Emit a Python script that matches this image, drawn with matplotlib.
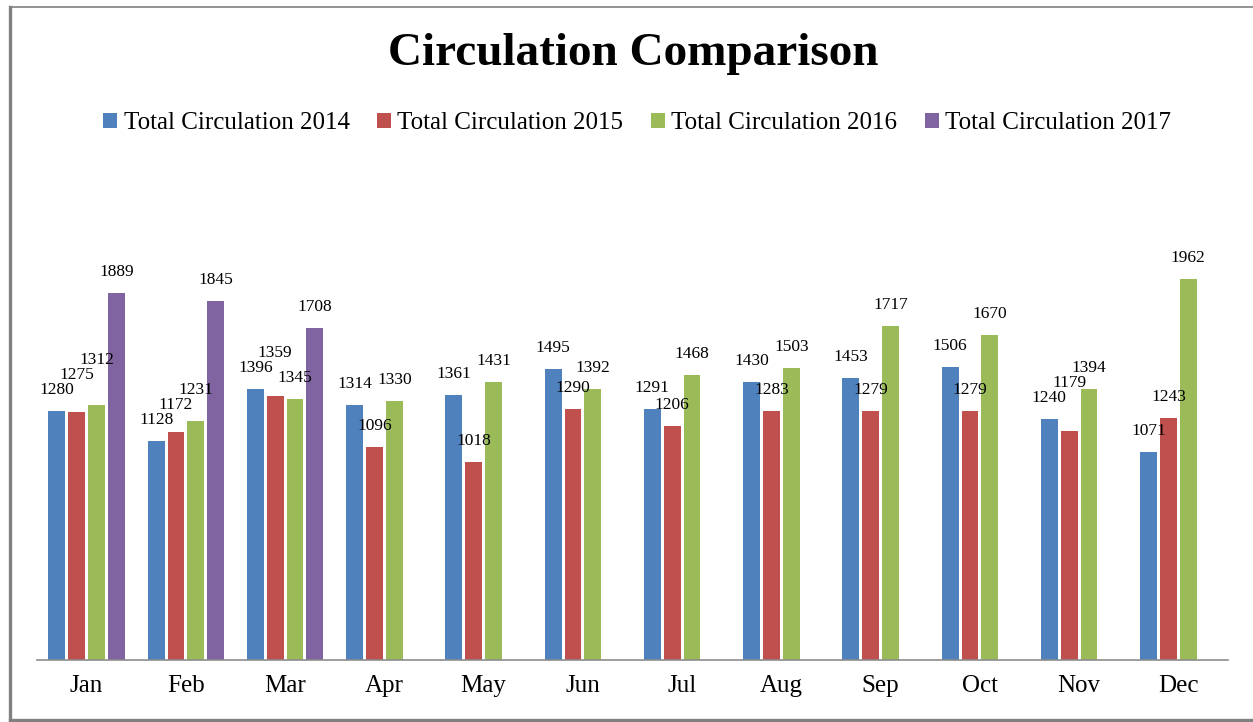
import numpy as np
import matplotlib
matplotlib.use('Agg')
import matplotlib.pyplot as plt
from matplotlib.lines import Line2D

plt.rcParams['font.family'] = ['Liberation Serif', 'DejaVu Serif']

months = ['Jan', 'Feb', 'Mar', 'Apr', 'May', 'Jun',
          'Jul', 'Aug', 'Sep', 'Oct', 'Nov', 'Dec']
circ_2014 = [1280, 1128, 1396, 1314, 1361, 1495, 1291, 1430, 1453, 1506, 1240, 1071]
circ_2015 = [1275, 1172, 1359, 1096, 1018, 1290, 1206, 1283, 1279, 1279, 1179, 1243]
circ_2016 = [1312, 1231, 1345, 1330, 1431, 1392, 1468, 1503, 1717, 1670, 1394, 1962]
circ_2017 = [1889, 1845, 1708]  # only Jan-Mar reported
series_names = ['Total Circulation 2014', 'Total Circulation 2015',
                'Total Circulation 2016', 'Total Circulation 2017']

colors = ['#4F81BD', '#C0504D', '#9BBB59', '#8064A2']
W, H = 1253, 722
fig = plt.figure(figsize=(W / 100, H / 100), dpi=100)
ax_h = 660 - 174
ax = fig.add_axes([37 / W, 62 / H, (1228 - 37) / W, ax_h / H])
ymax = 2500
ax.set_xlim(-0.5, len(months) - 0.5)
ax.set_ylim(0, ymax)

x = np.arange(len(months))
allseries = [circ_2014, circ_2015, circ_2016, circ_2017]
offsets = [-0.3, -0.1, 0.1, 0.3]
bw = 0.17
for vals, off, col, name in zip(allseries, offsets, colors, series_names):
    ax.bar(x[:len(vals)] + off, vals, width=bw, color=col, label=name)

# data labels: sit above the bar, pushed up if they collide with a
# label already placed in the same month (roughly what Excel does)
upp = ymax / ax_h              # data units per pixel
lab_h = 13 * upp
lab_w = 33 / ((1228 - 37) / len(months))
gap = 13 * upp
for i in range(len(months)):
    placed = []
    for vals, off in zip(allseries, offsets):
        if i >= len(vals):
            continue
        v = vals[i]
        xc = i + off
        y0 = v + gap
        moved = True
        while moved:
            moved = False
            for (px, py) in placed:
                if abs(px - xc) < lab_w and y0 < py + lab_h and y0 + lab_h > py:
                    y0 = py + lab_h + 2 * upp
                    moved = True
        placed.append((xc, y0))
        ax.text(xc, y0, str(v), ha='center', va='bottom', fontsize=12.5)

ax.set_xticks(x)
ax.set_xticklabels(months, fontsize=18)
ax.tick_params(axis='x', length=0, pad=11)
ax.set_yticks([])
for s in ['top', 'right', 'left']:
    ax.spines[s].set_visible(False)
ax.spines['bottom'].set_color('#8c8c8c')
ax.spines['bottom'].set_linewidth(1.2)

fig.text(0.505, 1 - 54 / H, 'Circulation Comparison', ha='center', va='center',
         fontsize=34, fontweight='bold')

handles, labels = ax.get_legend_handles_labels()
fig.legend(handles, labels, loc='center', bbox_to_anchor=(637 / W, 1 - 123 / H),
           ncol=4, frameon=False, fontsize=18, handlelength=0.56, handleheight=0.56,
           handletextpad=0.25, columnspacing=1.1)

# chart area border (gray, heavier on left and bottom)
fig.add_artist(Line2D([9.5 / W, 1], [1 - 6.5 / H, 1 - 6.5 / H], color='#808080', lw=1.2,
                      transform=fig.transFigure))
fig.add_artist(Line2D([9.5 / W, 9.5 / W], [1 - 6.5 / H, 1 - 719.5 / H], color='#808080', lw=2.4,
                      transform=fig.transFigure))
fig.add_artist(Line2D([9.5 / W, 1], [1 - 719.5 / H, 1 - 719.5 / H], color='#808080', lw=2.4,
                      transform=fig.transFigure))

fig.savefig('out.png', dpi=100)
